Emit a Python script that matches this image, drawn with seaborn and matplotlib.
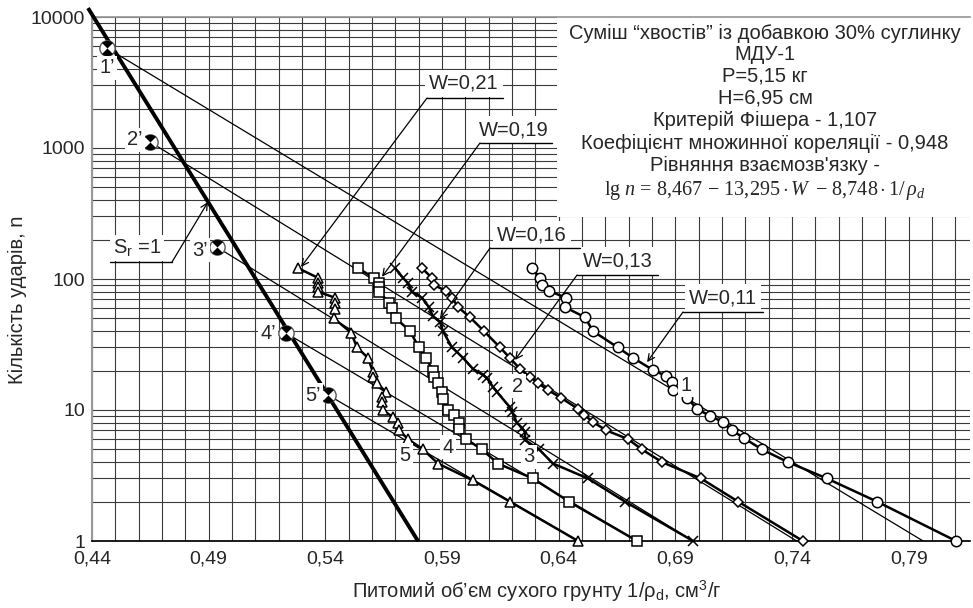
import numpy as np
import pandas as pd
import matplotlib
matplotlib.use('Agg')
import matplotlib.pyplot as plt
import seaborn as sns
from matplotlib.path import Path
from matplotlib.patches import Rectangle
from matplotlib.ticker import FixedLocator, NullFormatter

# --- data ---
x_w011 = [0.6286, 0.6320, 0.6329, 0.6359, 0.6431, 0.6427, 0.6513, 0.6547, 0.6654, 0.6719, 0.6804, 0.6860, 0.6886,
          0.6890, 0.6950, 0.6993, 0.7049, 0.7104, 0.7143, 0.7194, 0.7271, 0.7383, 0.7550, 0.7764, 0.8103]
n_w011 = [121, 102, 90, 81, 72, 61, 51, 40, 30, 25, 20.2, 18.2, 16.4,
          14.2, 12.4, 10.2, 9.0, 8.1, 7.0, 6.1, 5.0, 4.0, 3.0, 2.0, 1.0]

x_w013 = [0.5814, 0.5857, 0.5866, 0.5917, 0.5943, 0.5969, 0.6020, 0.6080, 0.6149, 0.6191, 0.6234, 0.6277, 0.6311,
          0.6354, 0.6410, 0.6483, 0.6509, 0.6547, 0.6603, 0.6697, 0.6757, 0.6843, 0.7010, 0.7169, 0.7447]
n_w013 = [121, 102, 90, 81, 72, 61, 51, 40, 30, 25, 20.6, 17.9, 16.1,
          14.2, 12.4, 10.2, 9.2, 8.1, 7.0, 6.0, 5.0, 4.0, 3.0, 2.0, 1.0]

x_w016 = [0.5699, 0.5733, 0.5754, 0.5771, 0.5814, 0.5844, 0.5861, 0.5891, 0.5904, 0.5943, 0.5964, 0.5990, 0.6033,
          0.6076, 0.6093, 0.6119, 0.6136, 0.6191, 0.6200, 0.6221, 0.6243, 0.6256, 0.6256, 0.6316, 0.6376, 0.6526,
          0.6684, 0.6976]
n_w016 = [121, 102, 93, 80, 72, 61, 52, 47, 40, 30, 27.7, 25, 20.6,
          18.5, 17.5, 15, 13.7, 10.5, 9.7, 8.0, 7.3, 6.8, 5.9, 5.0, 3.9, 3.0,
          2.0, 1.0]

x_w019 = [0.5540, 0.5609, 0.5630, 0.5630, 0.5630, 0.5673, 0.5686, 0.5703, 0.5763, 0.5801, 0.5831, 0.5861, 0.5866,
          0.5883, 0.5900, 0.5904, 0.5926, 0.5951, 0.5973, 0.5973, 0.6003, 0.6071, 0.6140, 0.6290, 0.6444, 0.6736]
n_w019 = [121, 102, 93, 87, 80, 66, 60, 50, 40, 30, 25, 20, 17.9,
          16, 13.7, 12.1, 10, 9.2, 8.0, 7.2, 6.0, 5.0, 3.9, 3.0, 2.0, 1.0]

x_w021 = [0.5283, 0.5369, 0.5369, 0.5369, 0.5369, 0.5441, 0.5441, 0.5441, 0.5437, 0.5510, 0.5536, 0.5583, 0.5604,
          0.5604, 0.5621, 0.5660, 0.5643, 0.5643, 0.5647, 0.5690, 0.5711, 0.5716, 0.5754, 0.5819, 0.5883, 0.6033,
          0.6191, 0.6483]
n_w021 = [121, 102, 93, 87, 80, 72, 66, 59, 50, 39, 30, 25, 19.5,
          17.9, 16.1, 13.7, 12.6, 11.5, 10, 8.8, 8.0, 7.0, 6.0, 5.0, 3.9, 2.9,
          2.0, 1.0]

# calculated points 1'..5' and end of the fitted lines at n = 1
prime_labels = ["1’", "2’", "3’", "4’", "5’"]
prime_x = [0.4464, 0.4649, 0.4936, 0.5231, 0.5412]
prime_n = [5800, 1112, 175, 38.7, 13.0]
fit_end_x = [0.7962, 0.7420, 0.6976, 0.6736, 0.6483]

# S_r = 1 line
sr_x = [0.4383, 0.5797]
sr_n = [11700, 1]

series_labels = ["1", "2", "3", "4", "5"]
w_labels = ["W=0,11", "W=0,13", "W=0,16", "W=0,19", "W=0,21"]

x_ticks = [0.44, 0.49, 0.54, 0.59, 0.64, 0.69, 0.74, 0.79]
x_ticklabels = ["0,44", "0,49", "0,54", "0,59", "0,64", "0,69", "0,74", "0,79"]
y_ticks = [1, 10, 100, 1000, 10000]
y_ticklabels = ["1", "10", "100", "1000", "10000"]

info_lines = [
    "Суміш “хвостів” із добавкою 30% суглинку",
    "МДУ-1",
    "P=5,15 кг",
    "H=6,95 см",
    "Критерій Фішера - 1,107",
    "Коефіцієнт множинної кореляції - 0,948",
    "Рівняння взаємозв'язку -",
]
formula = r"$\mathrm{lg}\ n\,=\,8{,}467\,-\,13{,}295\cdot W\ -\,8{,}748\cdot 1/\,\rho_{d}$"

# --- style ---
sns.set_theme(style="white")
plt.rcParams['font.family'] = ['Liberation Sans', 'DejaVu Sans']
plt.rcParams['mathtext.fontset'] = 'custom'
plt.rcParams['mathtext.rm'] = 'Liberation Serif'
plt.rcParams['mathtext.it'] = 'Liberation Serif:italic'
plt.rcParams['mathtext.sf'] = 'Liberation Sans'

FS = 14.5
TICK_FS = 14

frames = []
series = [(x_w011, n_w011), (x_w013, n_w013), (x_w016, n_w016), (x_w019, n_w019), (x_w021, n_w021)]
for lab, (xs, ns) in zip(w_labels, series):
    frames.append(pd.DataFrame({'x': xs, 'n': ns, 'W': lab}))
df = pd.concat(frames, ignore_index=True)

fig = plt.figure(figsize=(9.73, 6.08), dpi=100)
ax = fig.add_axes([92 / 973, 67 / 608, 878 / 973, 524 / 608])

ax.set_yscale('log')
ax.set_xlim(0.44, 0.8163)
ax.set_ylim(1, 10000)

# grid every 0.01 and log minor lines
ax.xaxis.set_major_locator(FixedLocator(x_ticks))
ax.set_xticklabels(x_ticklabels, fontsize=TICK_FS)
ax.xaxis.set_minor_locator(FixedLocator(np.round(np.arange(0.44, 0.8165, 0.01), 2)))
ax.yaxis.set_major_locator(FixedLocator(y_ticks))
ax.set_yticklabels(y_ticklabels, fontsize=TICK_FS)
ax.yaxis.set_minor_locator(FixedLocator([m * 10 ** d for d in range(4) for m in range(2, 10)]))
ax.yaxis.set_minor_formatter(NullFormatter())
ax.grid(True, which='both', color='#3a3a3a', lw=0.8, zorder=0)
ax.set_axisbelow(True)
ax.tick_params(which='both', length=0, pad=5)
ax.tick_params(axis='x', pad=7)

ax.spines['right'].set_visible(False)
ax.spines['top'].set_color('#999999')
ax.spines['left'].set_color('#999999')
ax.spines['left'].set_linewidth(1.5)
ax.spines['bottom'].set_color('black')

# white panel for the info text
ax.add_patch(Rectangle((0.5296, 0.6183), 0.5, 0.3817, transform=ax.transAxes,
                       facecolor='white', edgecolor='none', zorder=1))

# S_r = 1 line
ax.plot(sr_x, sr_n, color='black', lw=2.8, zorder=3, clip_on=False, solid_capstyle='butt')

# fitted lines from the calculated points
for px, pn, ex in zip(prime_x, prime_n, fit_end_x):
    ax.plot([px, ex], [pn, 1], color='black', lw=0.9, zorder=3)

# experimental series
markers = {'W=0,11': 'o', 'W=0,13': 'D', 'W=0,16': 'x', 'W=0,19': 's', 'W=0,21': '^'}
msizes = {'W=0,11': 7.5, 'W=0,13': 5, 'W=0,16': 7, 'W=0,19': 7, 'W=0,21': 7}
for lab in w_labels:
    sub = df[df['W'] == lab]
    sns.lineplot(data=sub, x='x', y='n', sort=False, estimator=None, ax=ax,
                 color='black', lw=1.8, marker=markers[lab], markersize=msizes[lab],
                 markerfacecolor='white', markeredgecolor='black', markeredgewidth=1.1,
                 zorder=4, clip_on=False)

# calculated points: circle with black top and bottom sectors
t_top = np.linspace(np.pi / 4, 3 * np.pi / 4, 16)
t_bot = t_top + np.pi
verts, codes = [], []
for tt in (t_top, t_bot):
    pts = [(0.0, 0.0)] + [(np.cos(a), np.sin(a)) for a in tt] + [(0.0, 0.0)]
    verts += pts
    codes += [Path.MOVETO] + [Path.LINETO] * len(tt) + [Path.CLOSEPOLY]
# keep both a left and a right extent so the marker scales like a circle
verts += [(-1.0, 0.0), (1.0, 0.0)]
codes += [Path.MOVETO, Path.MOVETO]
hourglass = Path(verts, codes)
ax.plot(prime_x, prime_n, ls='none', marker='o', markersize=11, markerfacecolor='white',
        markeredgecolor='#555555', markeredgewidth=1.0, zorder=5)
ax.plot(prime_x, prime_n, ls='none', marker=hourglass, markersize=11, color='black',
        markeredgewidth=0, zorder=6)

bbox_w = dict(boxstyle='square,pad=0.12', facecolor='white', edgecolor='none')

prime_lab_pos = [(0.4464, 4083), (0.4584, 1151), (0.4863, 166), (0.5154, 38.7), (0.5347, 13.0)]
for lab, (tx, ty) in zip(prime_labels, prime_lab_pos):
    ax.text(tx, ty, lab, fontsize=FS, ha='center', va='center', bbox=bbox_w, zorder=7)

num_lab_pos = [(0.6946, 15.5), (0.6226, 15.2), (0.6273, 4.38), (0.5926, 5.2), (0.5741, 4.53)]
for lab, (tx, ty) in zip(series_labels, num_lab_pos):
    ax.text(tx, ty, lab, fontsize=FS, ha='center', va='center', bbox=bbox_w, zorder=7)

# W leaders: (text center, underline x0, x1, underline y, arrow tip)
leaders = [
    ((0.7104, 71.6), 0.6933, 0.7276, 56.0, (0.6779, 23.2)),
    ((0.6654, 137.2), 0.6479, 0.6826, 107.3, (0.6213, 24.1)),
    ((0.6286, 216.8), 0.6106, 0.6491, 172.5, (0.5891, 49.5)),
    ((0.6209, 1372), 0.6063, 0.6371, 1092, (0.5643, 104)),
    ((0.5994, 3133), 0.5836, 0.6161, 2409, (0.5296, 123.6)),
]
for lab, (tpos, ux0, ux1, uy, tip) in zip(w_labels, leaders):
    ax.text(tpos[0], tpos[1], lab, fontsize=FS, ha='center', va='center',
            bbox=dict(boxstyle='square,pad=0.2', facecolor='white', edgecolor='none'), zorder=7)
    ax.plot([ux0, ux1], [uy, uy], color='black', lw=1.0, zorder=7)
    ax.annotate('', xy=tip, xytext=(ux0, uy),
                arrowprops=dict(arrowstyle='->', color='black', lw=0.9, shrinkA=0, shrinkB=0,
                                mutation_scale=12), zorder=7)

# S_r = 1 label
ax.text(0.4593, 172.5, r'S$_{\mathsf{r}}$ =1', fontsize=FS, ha='center', va='center', bbox=bbox_w, zorder=7)
ax.plot([0.4477, 0.4743], [134.8, 134.8], color='black', lw=1.0, zorder=7)
ax.annotate('', xy=(0.4897, 387), xytext=(0.4743, 134.8),
            arrowprops=dict(arrowstyle='->', color='black', lw=0.9, shrinkA=0, shrinkB=0,
                            mutation_scale=12), zorder=7)

# info text
line_y = [0.9695, 0.9275, 0.8874, 0.8454, 0.8034, 0.7595, 0.7176]
for txt, yy in zip(info_lines, line_y):
    ax.text(0.7665, yy, txt, transform=ax.transAxes, fontsize=FS, ha='center', va='center', zorder=8)
ax.text(0.7665, 0.6698, formula, transform=ax.transAxes, fontsize=FS, ha='center', va='center', zorder=8)

ax.set_xlabel(r'Питомий об’єм сухого грунту 1/ρ$_{\mathsf{d}}$, см$^{\mathsf{3}}$/г', fontsize=FS, va='center')
ax.set_ylabel('Кількість ударів, n', fontsize=FS, va='center')
ax.xaxis.set_label_coords(0.507, -0.097)
ax.yaxis.set_label_coords(-0.085, 0.46)

fig.savefig('out.png', dpi=100)
